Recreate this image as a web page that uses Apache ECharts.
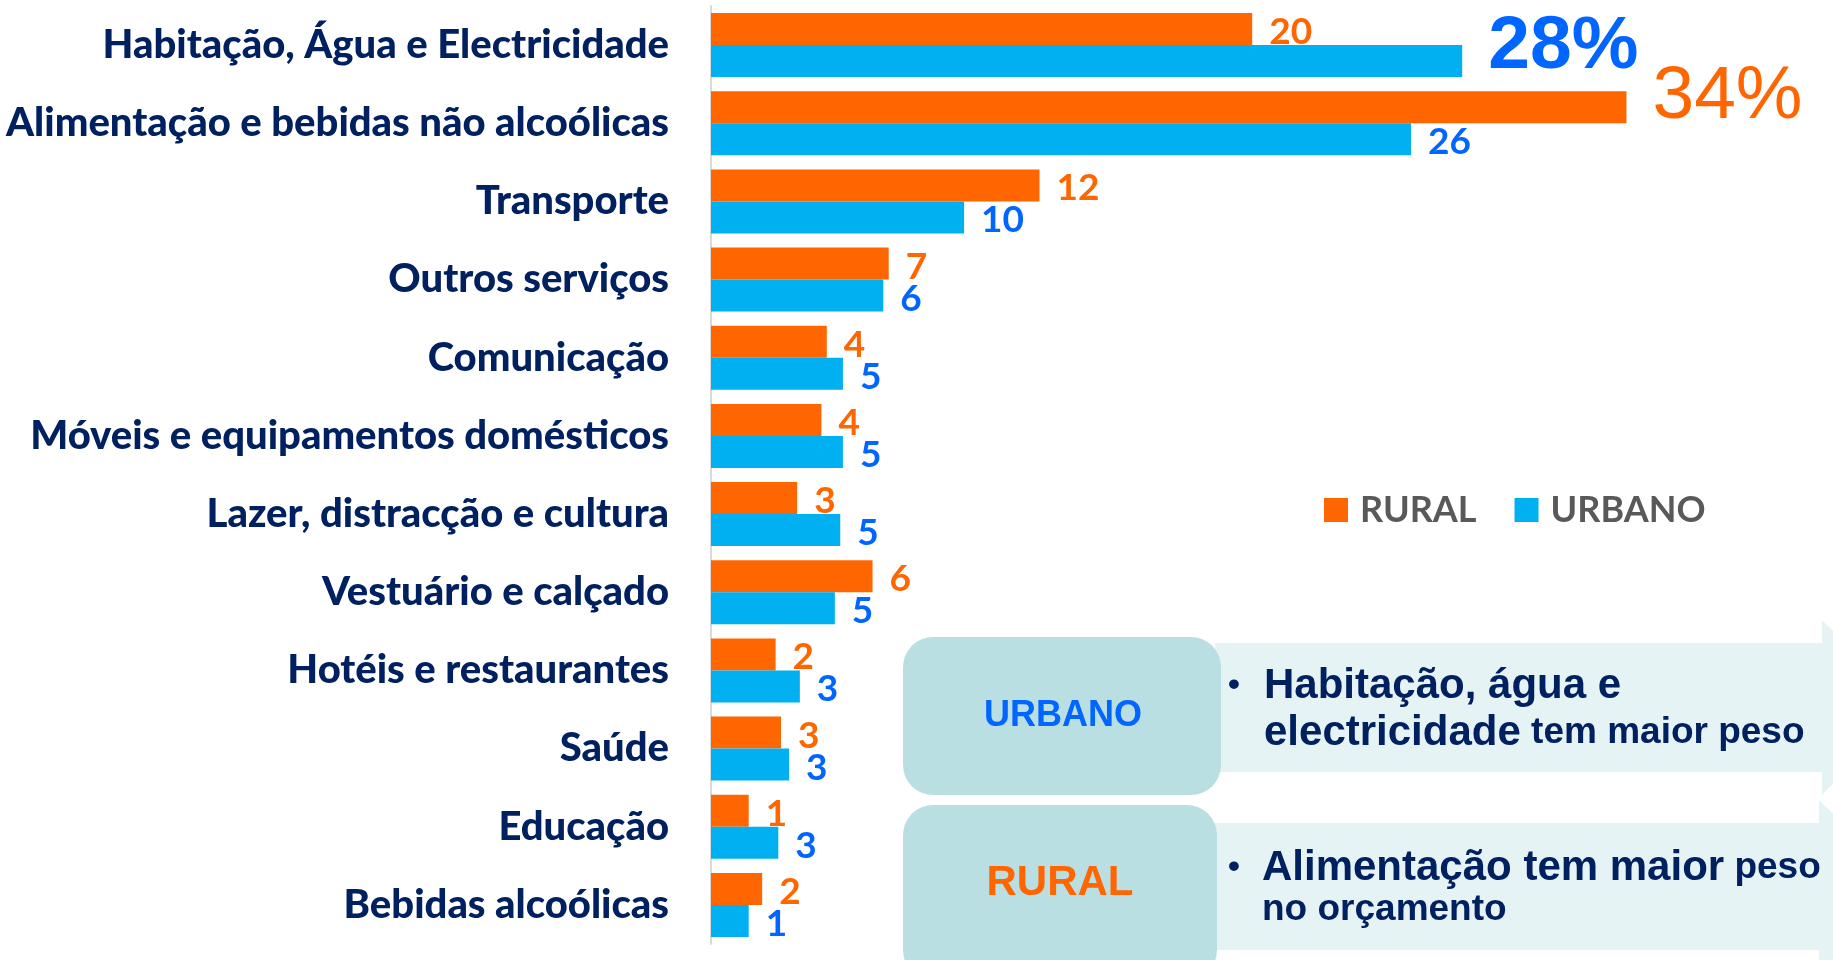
<!DOCTYPE html>
<html>
<head>
<meta charset="utf-8">
<title>Estrutura da despesa</title>
<script src="https://cdn.jsdelivr.net/npm/echarts@6/dist/echarts.min.js"></script>
<style>
  html, body { margin: 0; padding: 0; background: #fff; }
  #chart { width: 1833px; height: 960px; }
</style>
</head>
<body>
<div id="chart"></div>
<script>
// categorias (de cima para baixo)
const categories = [
  'Habitação, Água e Electricidade',
  'Alimentação e bebidas não alcoólicas',
  'Transporte',
  'Outros serviços',
  'Comunicação',
  'Móveis e equipamentos domésticos',
  'Lazer, distracção e cultura',
  'Vestuário e calçado',
  'Hotéis e restaurantes',
  'Saúde',
  'Educação',
  'Bebidas alcoólicas'
];
const seriesNames = ['RURAL', 'URBANO'];
// comprimento das barras
const ruralValues = [20.1, 34.0, 12.2, 6.6, 4.3, 4.1, 3.2, 6.0, 2.4, 2.6, 1.4, 1.9];
const urbanValues = [27.9, 26.0, 9.4, 6.4, 4.9, 4.9, 4.8, 4.6, 3.3, 2.9, 2.5, 1.4];
// rótulos mostrados
const ruralLabels = ['20', '34%', '12', '7', '4', '4', '3', '6', '2', '3', '1', '2'];
const urbanLabels = ['28%', '26', '10', '6', '5', '5', '5', '5', '3', '3', '3', '1'];
// notas
const urbanNote = ['Habitação, água e', 'electricidade', 'tem maior peso'];
const ruralNote = ['Alimentação tem maior', 'peso', 'no orçamento'];

const ORANGE = '#FF6600', CYAN = '#00B0F0', BLUE = '#0066FF', NAVY = '#002060';
const LATO = 'Lato, "Open Sans", sans-serif';
const ARIAL = '"Liberation Sans", Arial, sans-serif';

var chartDom = document.getElementById('chart');
var myChart = echarts.init(chartDom);

function buildData(values, labels, big) {
  return values.map(function (v, i) {
    var item = { value: v };
    if (labels[i].indexOf('%') > -1) {
      item.label = {
        fontSize: 75,
        fontFamily: ARIAL,
        fontWeight: big.weight,
        distance: 26,
        offset: big.offset
      };
    }
    return item;
  });
}

function barSeries(name, values, labels, barColor, labelColor, big) {
  return {
    name: name,
    type: 'bar',
    barWidth: 32,
    barGap: '0%',
    data: buildData(values, labels, big),
    itemStyle: { color: barColor },
    label: {
      show: true,
      position: 'right',
      distance: 17,
      offset: [0, 3],
      color: labelColor,
      fontFamily: LATO,
      fontWeight: 'bold',
      fontSize: 37,
      formatter: function (p) { return labels[p.dataIndex]; }
    }
  };
}

var option = {
  animation: false,
  backgroundColor: '#fff',
  grid: { left: 711, top: 6, width: 1077, height: 938 },
  legend: {
    data: seriesNames,
    left: 1324,
    top: 492,
    padding: 0,
    icon: 'rect',
    itemWidth: 24,
    itemHeight: 24,
    itemGap: 38,
    textStyle: { color: '#595959', fontSize: 36, fontWeight: 'bold', fontFamily: LATO, padding: [0, 0, 0, 7] }
  },
  xAxis: {
    type: 'value',
    min: 0,
    max: 40,
    show: false
  },
  yAxis: {
    type: 'category',
    inverse: true,
    data: categories,
    axisTick: { show: false },
    axisLine: { lineStyle: { color: '#D9D9D9', width: 2 } },
    axisLabel: { color: NAVY, fontSize: 40, fontWeight: 900, fontFamily: LATO, margin: 42 }
  },
  series: [
    barSeries(seriesNames[0], ruralValues, ruralLabels, ORANGE, ORANGE, { weight: 'normal', offset: [0, -10] }),
    barSeries(seriesNames[1], urbanValues, urbanLabels, CYAN, BLUE, { weight: 'bold', offset: [0, -14] })
  ],
  graphic: [
    // setas de fundo
    { type: 'polygon', z: 1, shape: { points: [[1215, 643], [1822, 643], [1822, 620], [1909, 707], [1822, 795], [1822, 772], [1215, 772]] }, style: { fill: '#E6F3F4' } },
    { type: 'polygon', z: 1, shape: { points: [[1215, 823], [1819, 823], [1819, 800], [1906, 886], [1819, 973], [1819, 950], [1215, 950]] }, style: { fill: '#E6F3F4' } },
    // caixas
    { type: 'rect', z: 2, shape: { x: 903, y: 637, width: 318, height: 158, r: 30 }, style: { fill: '#BADFE3' } },
    { type: 'rect', z: 2, shape: { x: 903, y: 805, width: 314, height: 175, r: 30 }, style: { fill: '#BADFE3' } },
    { type: 'text', z: 3, x: 1063, y: 716, style: { text: seriesNames[1], fill: BLUE, fontSize: 36, fontWeight: 'bold', fontFamily: ARIAL, align: 'center', verticalAlign: 'middle' } },
    { type: 'text', z: 3, x: 1060, y: 883, style: { text: seriesNames[0], fill: ORANGE, fontSize: 42, fontWeight: 'bold', fontFamily: ARIAL, align: 'center', verticalAlign: 'middle' } },
    // textos
    { type: 'text', z: 3, x: 1228, y: 686, style: { text: '•', fill: NAVY, fontSize: 34, fontWeight: 'bold', fontFamily: ARIAL, align: 'left', verticalAlign: 'middle' } },
    { type: 'text', z: 3, x: 1264, y: 686, style: { text: urbanNote[0], fill: NAVY, fontSize: 42, fontWeight: 'bold', fontFamily: ARIAL, align: 'left', verticalAlign: 'middle' } },
    { type: 'text', z: 3, x: 1264, y: 733, style: {
        text: '{b|' + urbanNote[1] + '}{s| ' + urbanNote[2] + '}',
        align: 'left', verticalAlign: 'middle',
        rich: {
          b: { fill: NAVY, fontSize: 42, fontWeight: 'bold', fontFamily: ARIAL },
          s: { fill: NAVY, fontSize: 37, fontWeight: 'bold', fontFamily: ARIAL }
        }
      } },
    { type: 'text', z: 3, x: 1228, y: 868, style: { text: '•', fill: NAVY, fontSize: 34, fontWeight: 'bold', fontFamily: ARIAL, align: 'left', verticalAlign: 'middle' } },
    { type: 'text', z: 3, x: 1262, y: 868, style: {
        text: '{b|' + ruralNote[0] + '}{s| ' + ruralNote[1] + '}',
        align: 'left', verticalAlign: 'middle',
        rich: {
          b: { fill: NAVY, fontSize: 42, fontWeight: 'bold', fontFamily: ARIAL },
          s: { fill: NAVY, fontSize: 37, fontWeight: 'bold', fontFamily: ARIAL }
        }
      } },
    { type: 'text', z: 3, x: 1262, y: 910, style: { text: ruralNote[2], fill: NAVY, fontSize: 37, fontWeight: 'bold', fontFamily: ARIAL, align: 'left', verticalAlign: 'middle' } }
  ]
};

option && myChart.setOption(option);
window.addEventListener('resize', function () {
  myChart.resize();
});
</script>
</body>
</html>
